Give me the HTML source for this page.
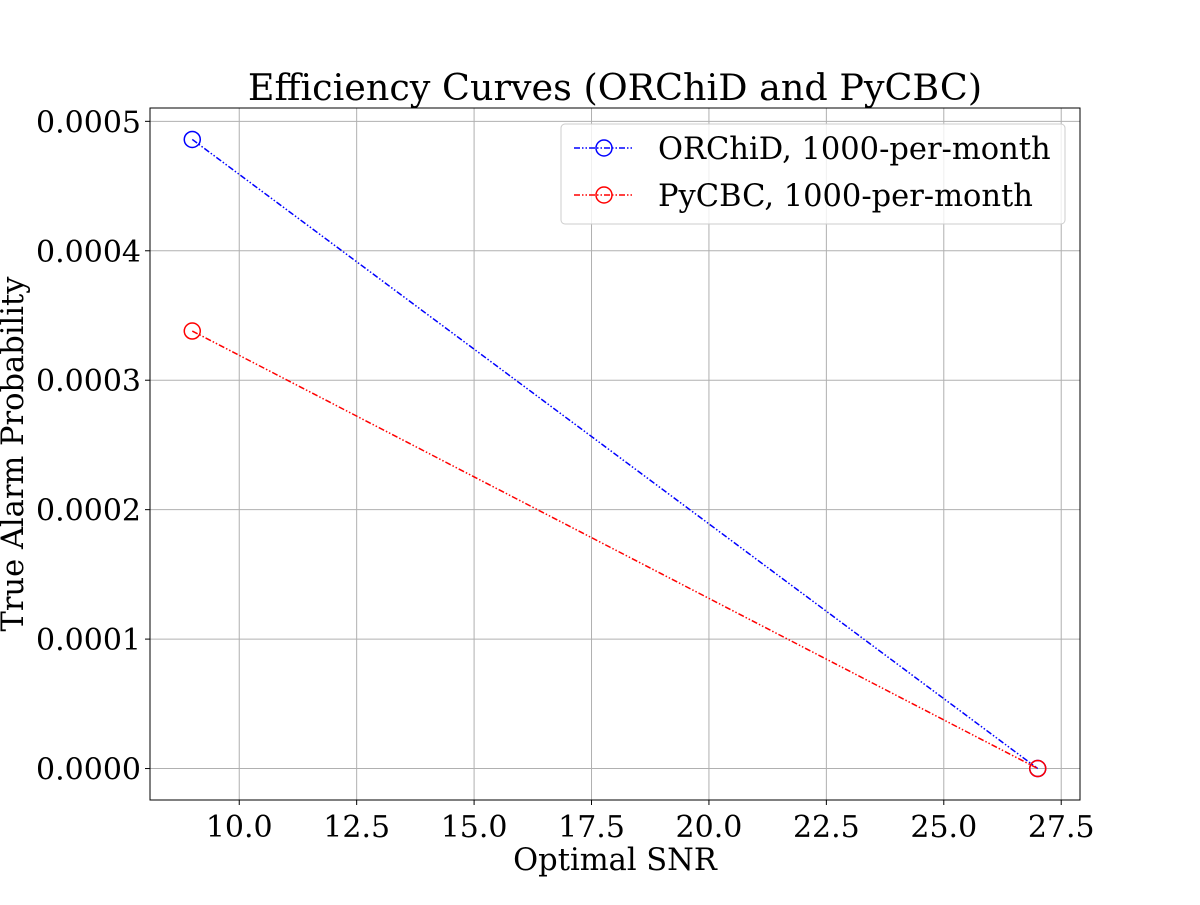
<!DOCTYPE html>
<html><head><meta charset="utf-8"><style>
body{margin:0;background:#fff}
svg text{font-family:"DejaVu Serif","Liberation Serif",serif;fill:#000}
</style></head><body>
<svg id="chart" width="1200" height="900"></svg>
<script>
const xValues=[9,27];
const orchidValues=[0.000486,0];
const pycbcValues=[0.000338,0];
const xTicks=[10,12.5,15,17.5,20,22.5,25,27.5];
const xTickLabels=["10.0","12.5","15.0","17.5","20.0","22.5","25.0","27.5"];
const yTicks=[0,0.0001,0.0002,0.0003,0.0004,0.0005];
const yTickLabels=["0.0000","0.0001","0.0002","0.0003","0.0004","0.0005"];
const L=150,R=1080,T=108,B=800;
const xMin=8.1,xMax=27.9,yMin=-0.0000243,yMax=0.0005103;
const sx=v=>L+(v-xMin)/(xMax-xMin)*(R-L);
const sy=v=>B-(v-yMin)/(yMax-yMin)*(B-T);
const svg=document.getElementById('chart');
const NS='http://www.w3.org/2000/svg';
function mk(t,a,p){const e=document.createElementNS(NS,t);for(const k in a)e.setAttribute(k,a[k]);(p||svg).appendChild(e);return e;}
const grid=mk('g',{});


xTicks.forEach((t,i)=>{
  const x=sx(t);
  mk('line',{x1:x,x2:x,y1:T,y2:B,stroke:'#b0b0b0','stroke-width':1},grid);
  mk('line',{x1:x,x2:x,y1:B,y2:B+5,stroke:'#000','stroke-width':1});
  const tx=mk('text',{x:x,y:B+37,'text-anchor':'middle','font-size':30});
  tx.textContent=xTickLabels[i];
  
  
});
yTicks.forEach((t,i)=>{
  const y=sy(t);
  mk('line',{x1:L,x2:R,y1:y,y2:y,stroke:'#b0b0b0','stroke-width':1},grid);
  mk('line',{x1:L-5,x2:L,y1:y,y2:y,stroke:'#000','stroke-width':1});
  const tx=mk('text',{x:L-9,y:y+11,'text-anchor':'end','font-size':30});
  tx.textContent=yTickLabels[i];
  
  
});
function series(vals,color,name){
  const g=mk('g',{});
  
  
  mk('polyline',{points:xValues.map((x,i)=>sx(x)+','+sy(vals[i])).join(' '),fill:'none',stroke:color,'stroke-width':1.5,'stroke-dasharray':'6,2,1.5,2,1.5,2'},g);
  xValues.forEach((x,i)=>{
    const c=mk('circle',{cx:sx(x),cy:sy(vals[i]),r:8,fill:'none',stroke:color,'stroke-width':1.5},g);
    
    
  });
}
series(orchidValues,'#0000ff','orchid-series');
series(pycbcValues,'#ff0000','pycbc-series');
mk('rect',{x:L,y:T,width:R-L,height:B-T,fill:'none',stroke:'#000','stroke-width':1});
const title=mk('text',{x:615,y:100,'text-anchor':'middle','font-size':36.5});
title.textContent='Efficiency Curves (ORChiD and PyCBC)';


const xl=mk('text',{x:615,y:870,'text-anchor':'middle','font-size':30.5});
xl.textContent='Optimal SNR';


const yl=mk('text',{x:0,y:0,'text-anchor':'middle','font-size':30.5,transform:'translate(23,454) rotate(-90)'});
yl.textContent='True Alarm Probability';


const lg=mk('g',{});


mk('rect',{x:561,y:124,width:504,height:100,rx:4,fill:'#fff','fill-opacity':0.8,stroke:'#ccc'},lg);
[['ORChiD, 1000-per-month','#0000ff',148],['PyCBC, 1000-per-month','#ff0000',195]].forEach(([t,c,y])=>{
  const e=mk('g',{},lg);
  
  
  mk('line',{x1:574,x2:634,y1:y,y2:y,stroke:c,'stroke-width':1.5,'stroke-dasharray':'6,2,1.5,2,1.5,2'},e);
  mk('circle',{cx:604,cy:y,r:8,fill:'none',stroke:c,'stroke-width':1.5},e);
  const tx=mk('text',{x:658,y:y+11,'font-size':30.5},e);
  tx.textContent=t;
});
</script>
</body></html>
